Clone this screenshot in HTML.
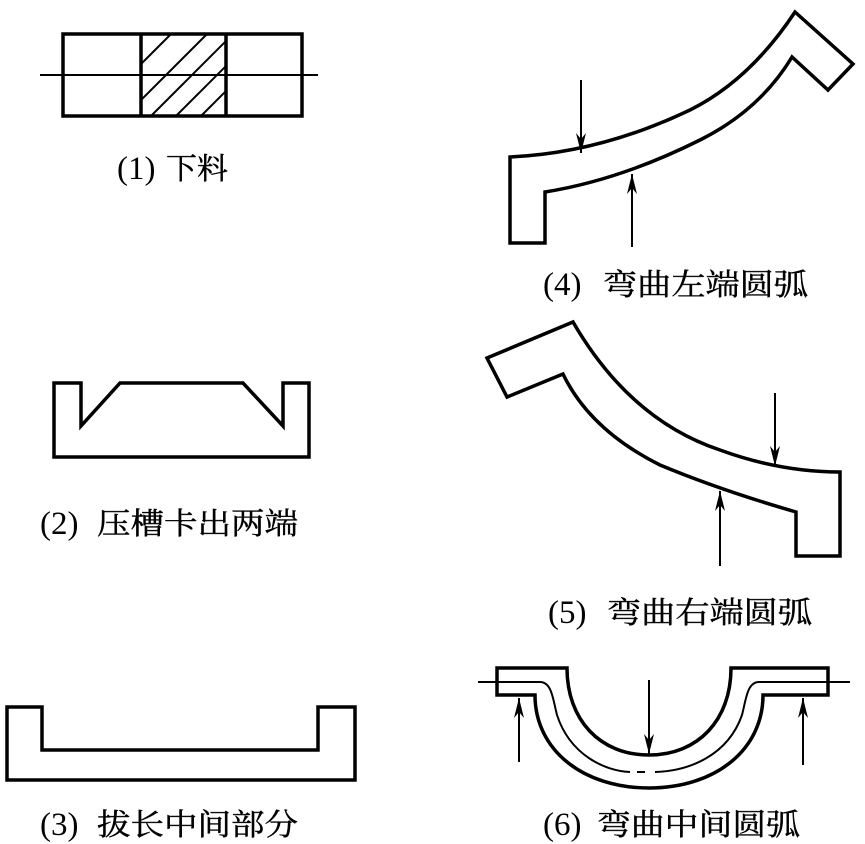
<!DOCTYPE html>
<html><head><meta charset="utf-8"><style>
html,body{margin:0;padding:0;background:#fff;}
svg{display:block;}
.n{font-family:"Liberation Serif",serif;font-size:33px;fill:#000;}
.c{font-family:"Liberation Serif","Noto Serif CJK SC",serif;font-size:30px;fill:#000;stroke:#000;stroke-width:0.4;}
</style></head><body>
<svg width="865" height="844" viewBox="0 0 865 844" xmlns="http://www.w3.org/2000/svg">
<defs>
<marker id="ah" viewBox="0 0 20 10" refX="20" refY="5" markerWidth="20" markerHeight="10" orient="auto" markerUnits="userSpaceOnUse">
<path d="M0,0 L20,5 L0,10 L6,5 Z" fill="#000"/>
</marker>
<clipPath id="hc"><rect x="141" y="34" width="85" height="82"/></clipPath>
</defs>
<g fill="none" stroke="#000" stroke-width="3.5" stroke-linejoin="miter">
<rect x="63" y="34" width="239" height="82"/>
<line x1="141" y1="34" x2="141" y2="116"/>
<line x1="226" y1="34" x2="226" y2="116"/>
<line x1="40" y1="75" x2="318" y2="75" stroke-width="2"/>
<g clip-path="url(#hc)" stroke-width="2">
<line x1="141" y1="64" x2="171" y2="34"/>
<line x1="141" y1="100" x2="207" y2="34"/>
<line x1="151" y1="116" x2="233" y2="34"/>
<line x1="176" y1="116" x2="258" y2="34"/>
<line x1="201" y1="116" x2="283" y2="34"/>
</g>
<path d="M54,383 L81,383 L81,426 L120,383 L243,383 L283,426 L283,383 L309,383 L309,457 L54,457 Z"/>
<path d="M7,707 L42,707 L42,750 L318,750 L318,707 L355,707 L355,780 L7,780 Z"/>
<path d="M510,157 Q600,153 690,110 Q750,80 795,12 L853,64 L828,90 L792,57 Q760,110 700,140 Q620,180 545,192 L545,243 L510,243 Z"/>
<path d="M487,358 L573,322 Q630,420 720,450 Q780,472 840,472 L840,556 L796,556 L796,512 Q720,490 660,465 Q590,430 563,374 L507,397 Z"/>
<path d="M497,668 L567,668 C567,720 600,755 649,755 C698,755 731,720 731,668 L828,668 L828,695 L763,695 C763,750 715,788 649,788 C583,788 535,750 535,695 L497,695 Z"/>
</g>
<g fill="none" stroke="#000" stroke-width="2">
<line x1="478" y1="682" x2="497" y2="682"/>
<line x1="828" y1="682" x2="850" y2="682"/>
<path d="M497,682 L540,682 C552,682 553,700 557,715 C570,755 605,771 630,772"/>
<line x1="637" y1="772" x2="645" y2="772"/>
<path d="M655,772 C690,771 728,755 742,715 C746,700 747,682 759,682 L828,682"/>
</g>
<g stroke="#000" stroke-width="2">
<line x1="581" y1="80" x2="581" y2="153" marker-end="url(#ah)"/>
<line x1="632" y1="247" x2="632" y2="174" marker-end="url(#ah)"/>
<line x1="775" y1="393" x2="775" y2="466" marker-end="url(#ah)"/>
<line x1="720" y1="566" x2="720" y2="491" marker-end="url(#ah)"/>
<line x1="649" y1="680" x2="649" y2="754" marker-end="url(#ah)"/>
<line x1="519" y1="762" x2="519" y2="698" marker-end="url(#ah)"/>
<line x1="803" y1="765" x2="803" y2="698" marker-end="url(#ah)"/>
</g>
<text class="n" x="117" y="179">(1)</text>
<text class="c" x="166" y="179" textLength="62" lengthAdjust="spacingAndGlyphs">下料</text>
<text class="n" x="40" y="534">(2)</text>
<text class="c" x="97" y="534" textLength="201" lengthAdjust="spacingAndGlyphs">压槽卡出两端</text>
<text class="n" x="40" y="835">(3)</text>
<text class="c" x="97" y="835" textLength="201" lengthAdjust="spacingAndGlyphs">拔长中间部分</text>
<text class="n" x="543" y="295">(4)</text>
<text class="c" x="603" y="295" textLength="205" lengthAdjust="spacingAndGlyphs">弯曲左端圆弧</text>
<text class="n" x="548" y="623">(5)</text>
<text class="c" x="607" y="623" textLength="205" lengthAdjust="spacingAndGlyphs">弯曲右端圆弧</text>
<text class="n" x="543" y="835">(6)</text>
<text class="c" x="597" y="835" textLength="203" lengthAdjust="spacingAndGlyphs">弯曲中间圆弧</text>
</svg>
</body></html>
